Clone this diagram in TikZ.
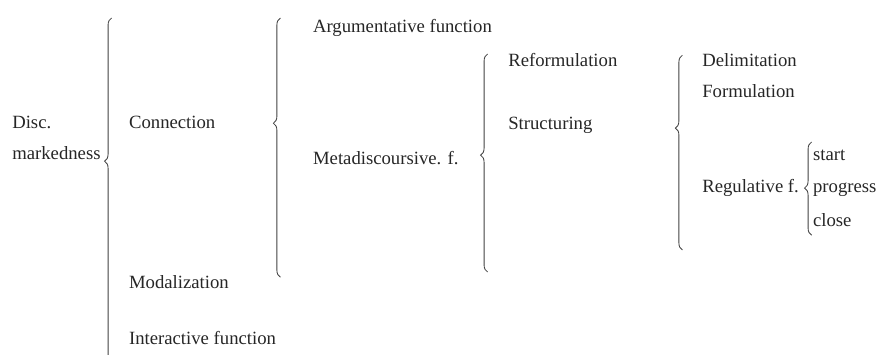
\documentclass[tikz,border=0pt]{standalone}
\usepackage{fontspec}
\setmainfont{Liberation Serif}
\usetikzlibrary{decorations.pathreplacing}

\begin{document}
\begin{tikzpicture}[
		label/.style={anchor=base west, inner sep=0pt, text=black!85, font=\fontsize{13.3}{16}\selectfont},
		curly/.style={draw=black!75, line width=0.6pt, decorate, decoration={brace, amplitude=5pt}}
		]
		
		\path[use as bounding box, clip] (0,0) rectangle (21.975,-8.85);
		
		% first level
		\node (disc) at (0.30, -3.20) [label] {Disc.};
		\node (marked) at (0.30, -3.98) [label] {markedness};
		\node (conn) at (3.22, -3.20) [label] {Connection};
		\node (modal) at (3.22, -7.20) [label] {Modalization};
		\node (inter) at (3.22, -8.62) [label] {Interactive function};
		
		% second level
		\node (argum) at (7.82, -0.82) [label] {Argumentative function};
		\node (meta) at (7.82, -4.12) [label] {Metadiscoursive. f.};
		
		% third level
		\node (reform) at (12.70, -1.65) [label] {Reformulation};
		\node (struct) at (12.70, -3.23) [label] {Structuring};
		
		% fourth level
		\node (delim) at (17.55, -1.65) [label] {Delimitation};
		\node (formul) at (17.55, -2.43) [label] {Formulation};
		\node (regul) at (17.55, -4.82) [label] {Regulative f.};
		
		\node (start) at (20.32, -4.02) [label] {start};
		\node (progr) at (20.32, -4.82) [label] {progress};
		\node (close) at (20.32, -5.65) [label] {close};
		
		% braces
		\draw [curly, decoration={aspect=0.60}] (2.79, -9.40) -- (2.79, -0.45);
		\draw [curly, decoration={aspect=0.594}] (7.01, -6.93) -- (7.01, -0.45);
		\draw [curly, decoration={aspect=0.536}] (12.19, -6.80) -- (12.19, -1.35);
		\draw [curly, decoration={aspect=0.626}] (17.06, -6.25) -- (17.06, -1.38);
		\draw [curly, decoration={aspect=0.506}] (20.29, -5.88) -- (20.29, -3.55);
	\end{tikzpicture}
\end{document}
